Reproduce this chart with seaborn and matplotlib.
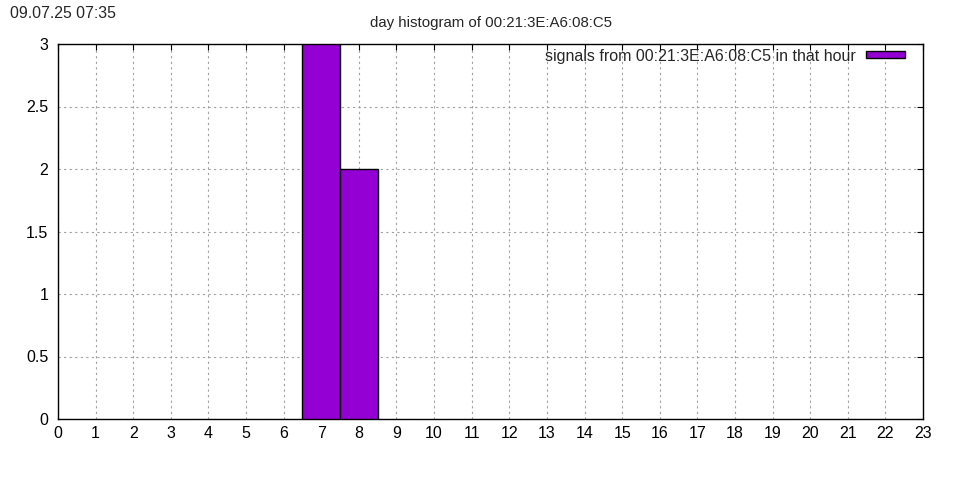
import pandas as pd
import matplotlib
matplotlib.use('Agg')
import matplotlib.pyplot as plt
import seaborn as sns
from matplotlib.patches import Patch
from matplotlib.ticker import FormatStrFormatter, MultipleLocator

# hourly signal counts for one device
hours = list(range(24))
counts = [0, 0, 0, 0, 0, 0, 0, 3, 2, 0, 0, 0, 0, 0, 0, 0, 0, 0, 0, 0, 0, 0, 0, 0]
device = '00:21:3E:A6:08:C5'
stamp = '09.07.25 07:35'
bar_color = '#9400d3'

data = pd.DataFrame({'hour': hours, 'count': counts})
data = data[data['count'] > 0]

sns.set_style('white')
plt.rcParams['font.family'] = ['Liberation Sans', 'DejaVu Sans']

fig = plt.figure(figsize=(9.6, 4.8), dpi=100)
ax = fig.add_axes([58 / 960, 1 - 419 / 480, 865 / 960, 375 / 480])

sns.barplot(data=data, x='hour', y='count', native_scale=True, width=1,
            color=bar_color, saturation=1, edgecolor='black', linewidth=1,
            ax=ax, zorder=3)

ax.set_xlim(0, 23)
ax.set_ylim(0, 3)
ax.xaxis.set_major_locator(MultipleLocator(1))
ax.yaxis.set_major_locator(MultipleLocator(0.5))
ax.yaxis.set_major_formatter(FormatStrFormatter('%g'))
ax.set_xlabel('')
ax.set_ylabel('')
ax.grid(True, color='#a0a0a0', linestyle=(0, (2, 3)), linewidth=0.8, zorder=0)
ax.set_axisbelow(True)
ax.tick_params(direction='in', length=4, width=0.8, top=True, right=True,
               labelsize=11.5, colors='black')
ax.tick_params(axis='y', pad=7)
ax.tick_params(axis='x', pad=5)
for s in ax.spines.values():
    s.set_color('black')
    s.set_linewidth(1)
    s.set_visible(True)

ax.set_title(f'day histogram of {device}', fontsize=10.8, pad=12)
fig.text(10 / 960, 1 - 13 / 480, stamp, fontsize=11.4, va='center', ha='left')

handle = Patch(facecolor=bar_color, edgecolor='black', linewidth=1)
ax.legend([handle], [f'signals from {device} in that hour'], loc='upper right',
          frameon=False, fontsize=11.5, handlelength=2.45, handleheight=0.3,
          handletextpad=0.6, markerfirst=False, borderaxespad=0.0,
          bbox_to_anchor=(0.9865, 1.005))

fig.savefig('out.png', dpi=100)
